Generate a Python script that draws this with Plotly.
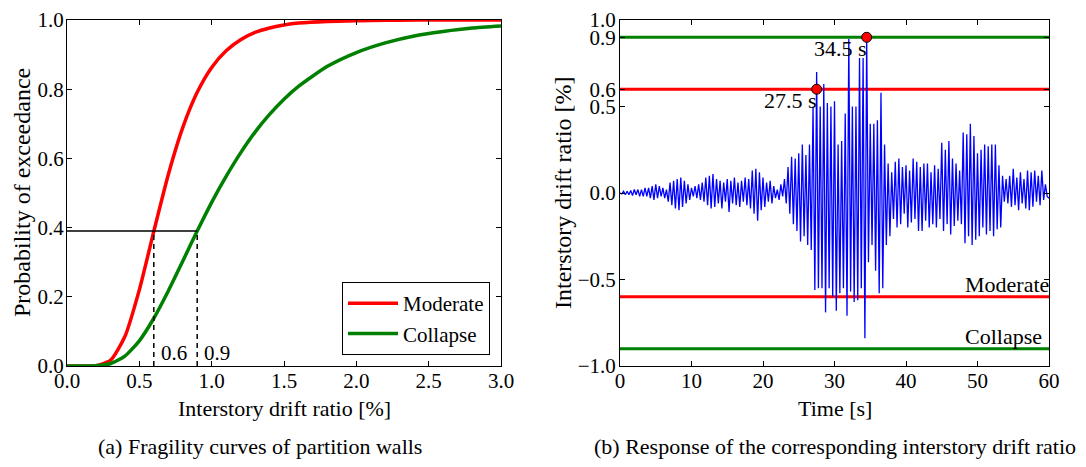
import plotly.graph_objects as go

# ---------------- data ----------------
drift_grid = [0.0, 0.1, 0.2, 0.3, 0.4, 0.5, 0.6, 0.7, 0.8, 0.9, 1.0, 1.1, 1.2, 1.3,
              1.4, 1.5, 1.6, 1.8, 2.0, 2.2, 2.4, 2.6, 2.8, 3.0]
moderate_prob = [0.0, 0.0, 0.0006, 0.016, 0.085, 0.220, 0.389, 0.553, 0.689, 0.791,
                 0.863, 0.911, 0.943, 0.964, 0.977, 0.9855, 0.991, 0.996, 0.998,
                 0.9992, 0.9997, 0.9999, 1.0, 1.0]
collapse_prob = [0.0, 0.0, 0.0005, 0.0066, 0.0286, 0.0728, 0.138, 0.217, 0.303, 0.390,
                 0.473, 0.548, 0.616, 0.676, 0.727, 0.771, 0.808, 0.866, 0.906, 0.934,
                 0.954, 0.967, 0.977, 0.983]

limit_names = ["Moderate", "Collapse"]
limit_drift = [0.6, 0.9]           # drift thresholds [%]
limit_prob = 0.39                  # probability level read at thresholds
exceed_time = [27.5, 34.5]         # first exceedance times [s]

time_step = 0.25
response = [
    0.0, -0.005, 0.01, -0.01,
    0.01, -0.01, 0.015, -0.015,
    0.02, -0.01, 0.02, -0.02,
    0.02, -0.02, 0.03, -0.02,
    0.03, -0.03, 0.04, -0.04,
    0.05, -0.03, 0.04, -0.02,
    0.03, -0.03, 0.02, -0.05,
    0.06, -0.07, 0.07, -0.09,
    0.08, -0.10, 0.09, -0.08,
    0.07, -0.06, 0.05, -0.04,
    0.03, -0.02, 0.04, -0.03,
    0.05, -0.04, 0.06, -0.05,
    0.09, -0.07, 0.10, -0.09,
    0.11, -0.08, 0.08, -0.06,
    0.07, -0.09, 0.06, -0.05,
    0.08, -0.11, 0.07, -0.06,
    0.09, -0.07, 0.06, -0.08,
    0.07, -0.05, 0.09, -0.07,
    0.08, -0.09, 0.13, -0.12,
    0.14, -0.16, 0.12, -0.10,
    0.09, -0.08, 0.06, -0.05,
    0.07, -0.06, 0.04, -0.03,
    0.02, -0.04, 0.05, -0.02,
    0.08, -0.06, 0.15, -0.12,
    0.21, -0.18, 0.20, -0.22,
    0.23, -0.28, 0.28, -0.25,
    0.22, -0.30, 0.28, -0.33,
    0.50, -0.56, 0.70, -0.55,
    0.50, -0.55, 0.63, -0.69,
    0.52, -0.55, 0.50, -0.60,
    0.53, -0.68, 0.28, -0.58,
    0.30, -0.55, 0.46, -0.71,
    0.89, -0.57, 0.50, -0.63,
    0.50, -0.62, 0.78, -0.55,
    0.78, -0.84, 0.90, -0.40,
    0.40, -0.30, 0.40, -0.45,
    0.42, -0.58, 0.58, -0.55,
    0.28, -0.30, 0.17, -0.25,
    0.12, -0.15, 0.18, -0.20,
    0.20, -0.18, 0.15, -0.12,
    0.16, -0.20, 0.13, -0.17,
    0.20, -0.15, 0.18, -0.22,
    0.15, -0.22, 0.17, -0.16,
    0.17, -0.20, 0.12, -0.18,
    0.16, -0.20, 0.14, -0.15,
    0.29, -0.22, 0.25, -0.18,
    0.30, -0.24, 0.20, -0.19,
    0.17, -0.16, 0.13, -0.18,
    0.35, -0.29, 0.34, -0.25,
    0.40, -0.30, 0.33, -0.27,
    0.23, -0.25, 0.25, -0.20,
    0.28, -0.24, 0.27, -0.22,
    0.28, -0.25, 0.28, -0.21,
    0.16, -0.20, 0.10, -0.05,
    0.08, -0.06, 0.10, -0.08,
    0.14, -0.07, 0.09, -0.10,
    0.12, -0.06, 0.08, -0.09,
    0.13, -0.10, 0.12, -0.08,
    0.13, -0.05, 0.10, -0.07,
    0.13, -0.04, 0.05, -0.02,
    -0.03,
]
time_s = [i * time_step for i in range(len(response))]

left_xticks = [0.0, 0.5, 1.0, 1.5, 2.0, 2.5, 3.0]
left_yticks = [0.0, 0.2, 0.4, 0.6, 0.8, 1.0]
right_xticks = [0, 10, 20, 30, 40, 50, 60]
right_yticks = [-1.0, -0.5, 0.0, 0.5, 0.6, 0.9, 1.0]

# ---------------- styling ----------------
W, H = 1086, 467
FONT = "Liberation Serif"
FS_TICK = 21
FS = 22
FS_ROT = 24
RED, GREEN, BLUE = "#ff0000", "#008000", "#0000ff"
limit_colors = [RED, GREEN]


def px_x(p):
    return p / W


def px_y(p):
    return 1 - p / H


fig = go.Figure()

# left: fragility curves
fig.add_trace(go.Scatter(x=drift_grid, y=moderate_prob, mode="lines", name="Moderate",
                         line=dict(color=RED, width=3.5, shape="spline", smoothing=0.6),
                         xaxis="x", yaxis="y"))
fig.add_trace(go.Scatter(x=drift_grid, y=collapse_prob, mode="lines", name="Collapse",
                         line=dict(color=GREEN, width=3.5, shape="spline", smoothing=0.6),
                         xaxis="x", yaxis="y"))
# horizontal probability line
fig.add_trace(go.Scatter(x=[0, max(limit_drift)], y=[limit_prob, limit_prob], mode="lines",
                         line=dict(color="black", width=1.5), showlegend=False,
                         xaxis="x", yaxis="y"))
for d in limit_drift:
    fig.add_trace(go.Scatter(x=[d, d], y=[0, limit_prob], mode="lines",
                             line=dict(color="black", width=1.5, dash="5px,4px"),
                             showlegend=False, xaxis="x", yaxis="y"))

# right: response history
for v, c in zip(limit_drift, limit_colors):
    for s in (1, -1):
        fig.add_trace(go.Scatter(x=[0, 60], y=[s * v, s * v], mode="lines",
                                 line=dict(color=c, width=3), showlegend=False,
                                 xaxis="x2", yaxis="y2"))
fig.add_trace(go.Scatter(x=time_s, y=response, mode="lines",
                         line=dict(color=BLUE, width=1.3), showlegend=False,
                         xaxis="x2", yaxis="y2"))
fig.add_trace(go.Scatter(x=exceed_time, y=limit_drift, mode="markers",
                         marker=dict(color=RED, size=10, line=dict(color="black", width=1)),
                         showlegend=False, xaxis="x2", yaxis="y2"))

ax_common = dict(showline=True, linecolor="black", linewidth=1, mirror="allticks",
                 ticks="inside", ticklen=5, tickcolor="black", showgrid=False,
                 zeroline=False, automargin=False,
                 tickfont=dict(family=FONT, size=FS_TICK, color="black"))

L0, L1 = px_x(67), px_x(501)
R0, R1 = px_x(620), px_x(1049)
YB, YT = px_y(366), px_y(20)

fig.update_layout(
    template="none",
    width=W, height=H, margin=dict(l=0, r=0, t=0, b=0, pad=0, autoexpand=False),
    paper_bgcolor="white", plot_bgcolor="white",
    font=dict(family=FONT, size=FS, color="black"),
    xaxis=dict(domain=[L0, L1], range=[0, 3], tickvals=left_xticks,
               ticktext=[f"{t:.1f}" for t in left_xticks], anchor="y",
               ticklabelstandoff=-4, **ax_common),
    yaxis=dict(domain=[YB, YT], range=[0, 1], tickvals=left_yticks,
               ticktext=[f"{t:.1f}" for t in left_yticks], anchor="x",
               ticklabelstandoff=-2, **ax_common),
    xaxis2=dict(domain=[R0, R1], range=[0, 60], tickvals=right_xticks,
                ticktext=[str(t) for t in right_xticks], anchor="y2",
                ticklabelstandoff=-4, **ax_common),
    yaxis2=dict(domain=[YB, YT], range=[-1, 1], tickvals=right_yticks,
                ticktext=[f"{t:.1f}".replace("-", "\u2212") for t in right_yticks],
                anchor="x2", ticklabelstandoff=-1, **ax_common),
    legend=dict(x=px_x(490), xanchor="right", y=px_y(355), yanchor="bottom",
                bordercolor="black", borderwidth=1, bgcolor="white",
                font=dict(family=FONT, size=FS_TICK), itemwidth=50,
                tracegroupgap=2),
    showlegend=True,
)

ann = []
# threshold labels on left plot
for d in limit_drift:
    ann.append(dict(x=d, y=0.0, xref="x", yref="y", text=f"{d:.1f}", showarrow=False,
                    xanchor="left", yanchor="bottom", xshift=5, yshift=-1,
                    font=dict(family=FONT, size=FS_TICK)))
# exceedance time labels
for t, v in zip(exceed_time, limit_drift):
    ann.append(dict(x=t, y=v, xref="x2", yref="y2", text=f"{t} s", showarrow=False,
                    xanchor="right", yanchor="top", xshift=2, yshift=3,
                    font=dict(family=FONT, size=FS)))
# limit-state labels
for name, v in zip(limit_names, limit_drift):
    ann.append(dict(x=48.0, y=-v, xref="x2", yref="y2", text=name,
                    showarrow=False, xanchor="left", yanchor="bottom", yshift=-2,
                    font=dict(family=FONT, size=FS)))
# axis titles
ann.append(dict(x=(L0 + L1) / 2, y=px_y(408), xref="paper", yref="paper",
                text="Interstory drift ratio [%]", showarrow=False,
                xanchor="center", yanchor="middle", font=dict(family=FONT, size=FS)))
ann.append(dict(x=(R0 + R1) / 2, y=px_y(408), xref="paper", yref="paper",
                text="Time [s]", showarrow=False,
                xanchor="center", yanchor="middle", font=dict(family=FONT, size=FS)))
ann.append(dict(x=px_x(22), y=(YB + YT) / 2, xref="paper", yref="paper",
                text="Probability of exceedance", showarrow=False, textangle=-90,
                xanchor="center", yanchor="middle", font=dict(family=FONT, size=FS_ROT)))
ann.append(dict(x=px_x(563), y=(YB + YT) / 2, xref="paper", yref="paper",
                text="Interstory drift ratio [%]", showarrow=False, textangle=-90,
                xanchor="center", yanchor="middle", font=dict(family=FONT, size=FS_ROT)))
# captions
ann.append(dict(x=px_x(260), y=px_y(446), xref="paper", yref="paper",
                text="(a) Fragility curves of partition walls", showarrow=False,
                xanchor="center", yanchor="middle", font=dict(family=FONT, size=FS)))
ann.append(dict(x=px_x(835), y=px_y(446), xref="paper", yref="paper",
                text="(b) Response of the corresponding interstory drift ratio",
                showarrow=False, xanchor="center", yanchor="middle",
                font=dict(family=FONT, size=FS)))
fig.update_layout(annotations=ann)

fig.write_html("out.html")
